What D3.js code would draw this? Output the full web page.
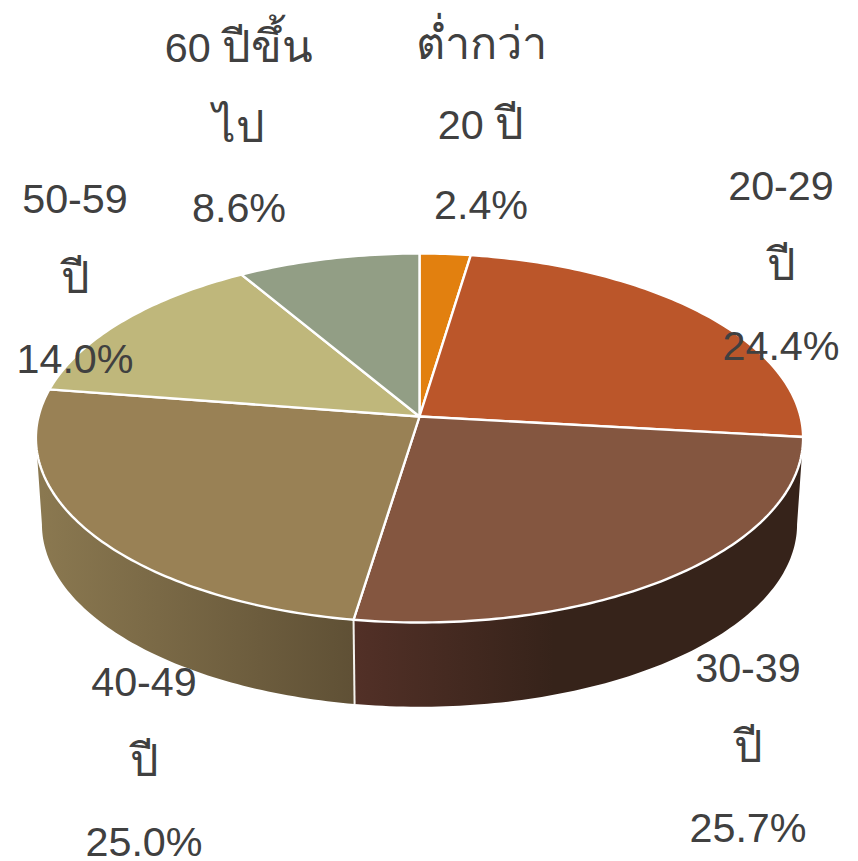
<!DOCTYPE html>
<html>
<head>
    <script src="https://d3js.org/d3.v7.min.js"></script>
    <style>
        html, body { margin: 0; padding: 0; background: #fff; }
        svg { display: block; }
        .label text {
            font-family: "Liberation Sans", Arial, sans-serif;
            font-size: 41.3px;
            fill: #404040;
            text-anchor: middle;
        }
        .label .thai { font-size: 45px; }
    </style>
</head>
<body>
    <svg width="858" height="861"></svg>

    <script>
        // Data
        const categories = [["ต่ำกว่า", "20 ปี"], ["20-29", "ปี"], ["30-39", "ปี"], ["40-49", "ปี"], ["50-59", "ปี"], ["60 ปีขึ้น", "ไป"]];
        const values = [2.4, 24.4, 25.7, 25.0, 14.0, 8.6];

        // Look of each slice
        const topColors = ["#e2800f", "#bb562a", "#845640", "#998155", "#bfb77b", "#929e85"];
        const wallStops = {
            2: [[0, "#523027"], [0.45, "#36231a"], [1, "#36231a"]],
            3: [[0, "#8a7850"], [1, "#5f5035"]]
        };
        // Where the label blocks sit (centre x, first baseline y)
        const labelAnchors = [[481, 59], [781, 200], [748, 682], [144, 696], [75, 213], [239, 62]];
        const lineGap = 80;

        const svg = d3.select("svg");

        // The pie is a circle seen in perspective, so the far half looks smaller
        const perspective = 0.1165;
        const topFace = { cx: 419.5, cy: 416.5, a: 381, b: 182 };
        const bottomFace = { cx: 419.5, cy: 503, a: 375, b: 180 };
        const project = (face, t) => {
            const w = 1 + perspective * Math.cos(t);
            return [face.cx + face.a * Math.sin(t) / w, face.cy - face.b * Math.cos(t) / w];
        };
        const rim = (face, t0, t1) => {
            const n = Math.max(2, Math.ceil(Math.abs(t1 - t0) * 60));
            return d3.range(n + 1).map(i => project(face, t0 + (t1 - t0) * i / n));
        };

        const line = d3.line();
        const arcs = d3.pie().sort(null).value(d => d)(values);

        // Only the near part of the side wall can be seen
        const wallFrom = Math.acos(-perspective);
        const wallTo = 2 * Math.PI - wallFrom;

        const defs = svg.append("defs");
        Object.keys(wallStops).forEach(i => {
            const from = Math.max(arcs[i].startAngle, wallFrom);
            const to = Math.min(arcs[i].endAngle, wallTo);
            const xs = [project(bottomFace, from)[0], project(bottomFace, to)[0]];
            const gradient = defs.append("linearGradient")
                .attr("id", `wall${i}`)
                .attr("gradientUnits", "userSpaceOnUse")
                .attr("x1", d3.min(xs)).attr("y1", 0)
                .attr("x2", d3.max(xs)).attr("y2", 0);
            gradient.selectAll("stop")
                .data(wallStops[i])
                .enter().append("stop")
                .attr("offset", d => d[0])
                .attr("stop-color", d => d[1]);
        });

        // Side walls
        const walls = arcs.map((d, i) => ({ i, from: Math.max(d.startAngle, wallFrom), to: Math.min(d.endAngle, wallTo) }))
            .filter(d => d.to > d.from);
        svg.append("g").selectAll("path")
            .data(walls)
            .enter().append("path")
            .attr("d", d => line(rim(topFace, d.from, d.to).concat(rim(bottomFace, d.to, d.from))) + "Z")
            .attr("fill", d => `url(#wall${d.i})`);

        // White seam between the walls
        const seam = arcs[2].endAngle;
        svg.append("path")
            .attr("d", line([project(topFace, seam), project(bottomFace, seam)]))
            .attr("stroke", "#f4f2ee")
            .attr("stroke-width", 2)
            .attr("fill", "none");

        // Top face
        svg.append("g").selectAll("path")
            .data(arcs)
            .enter().append("path")
            .attr("d", d => line([[topFace.cx, topFace.cy]].concat(rim(topFace, d.startAngle, d.endAngle))) + "Z")
            .attr("fill", (d, i) => topColors[i])
            .attr("stroke", "#fff")
            .attr("stroke-width", 2.4)
            .attr("stroke-linejoin", "round");

        // Labels, three lines each. Thai runs are set a little larger than the digits
        const percent = d3.format(".1f");
        const labels = svg.append("g").attr("class", "label").selectAll("g")
            .data(categories.map((c, i) => c.concat(`${percent(values[i])}%`)))
            .enter().append("g")
            .attr("transform", (d, i) => `translate(${labelAnchors[i][0]},${labelAnchors[i][1]})`);
        labels.selectAll("text")
            .data(d => d)
            .enter().append("text")
            .attr("y", (d, i) => i * lineGap)
            .selectAll("tspan")
            .data(d => d.split(/([\u0E00-\u0E7F]+)/).filter(s => s))
            .enter().append("tspan")
            .attr("class", d => /[\u0E00-\u0E7F]/.test(d) ? "thai" : null)
            .text(d => d);
    </script>
</body>
</html>
